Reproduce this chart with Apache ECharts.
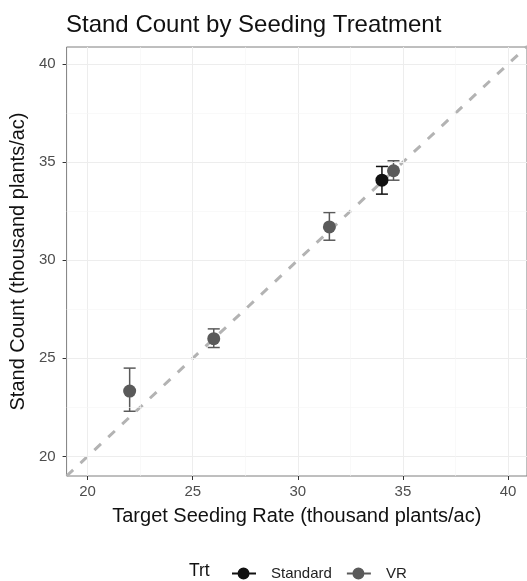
<!DOCTYPE html>
<html><head><meta charset="utf-8">
<script src="https://cdn.jsdelivr.net/npm/echarts@6/dist/echarts.min.js"></script>
<style>html,body{margin:0;padding:0;background:#fff}#c{width:527px;height:581px}</style>
</head><body><div id="c"></div>
<script>
var ticks = [20, 25, 30, 35, 40];
var minorTicks = [22.5, 27.5, 32.5, 37.5];
var axisRange = [19, 40.9];
var yRange = [19, 40.87];
var refLine = [19, 41];
var stdX = [34];
var stdY = [34.08];
var stdLow = [33.37];
var stdHigh = [34.78];
var vrX = [22, 26, 31.5, 34.55];
var vrY = [23.33, 26.0, 31.7, 34.56];
var vrLow = [22.3, 25.55, 31.02, 34.08];
var vrHigh = [24.5, 26.5, 32.43, 35.07];

var FONT = 'Liberation Sans, Arial, sans-serif';
var STD_C = '#111111', VR_C = '#5a5a5a';

function pts(xs, ys){ return xs.map(function(x,i){ return [x, ys[i]]; }); }
function errs(xs, lo, hi){ return xs.map(function(x,i){ return [x, lo[i], hi[i]]; }); }
function errRender(color){
  return function(params, api){
    var x = api.value(0), lo = api.value(1), hi = api.value(2);
    var a = api.coord([x, hi]), b = api.coord([x, lo]);
    var w = 6;
    var st = {stroke: color, lineWidth: 1.5};
    return {type:'group', children:[
      {type:'line', shape:{x1:a[0],y1:a[1],x2:b[0],y2:b[1]}, style:st},
      {type:'line', shape:{x1:a[0]-w,y1:a[1],x2:a[0]+w,y2:a[1]}, style:st},
      {type:'line', shape:{x1:b[0]-w,y1:b[1],x2:b[0]+w,y2:b[1]}, style:st}
    ]};
  };
}
var gridLines = [];
ticks.concat(minorTicks).forEach(function(t){
  var major = ticks.indexOf(t) >= 0;
  var ls = {color: major ? '#ededed' : '#f5f5f5', width: major ? 1 : 0.6, type:'solid'};
  gridLines.push({xAxis: t, lineStyle: ls});
  gridLines.push({yAxis: t, lineStyle: ls});
});
var ICON = 'path://M0,8h26v2h-26z M19,9a6.5,6.5 0 1,1 -13,0a6.5,6.5 0 1,1 13,0z';

var chart = echarts.init(document.getElementById('c'));
chart.setOption({
  animation: false,
  title: {text: 'Stand Count by Seeding Treatment', left: 61, top: 8,
    textStyle: {fontFamily: FONT, fontSize: 24, fontWeight: 'normal', color: '#111'}},
  grid: {left: 62, top: 47, right: -1, bottom: 105, show: true, borderColor: '#7f7f7f', borderWidth: 1, backgroundColor: '#fff'},
  xAxis: {type: 'value', min: axisRange[0], max: axisRange[1],
    name: 'Target Seeding Rate (thousand plants/ac)', nameLocation: 'middle', nameGap: 30,
    nameTextStyle: {fontFamily: FONT, fontSize: 20, color: '#111'},
    axisLine: {show: false}, splitLine: {show: false},
    axisTick: {show: true, customValues: ticks, length: 4, lineStyle: {color: '#333'}},
    axisLabel: {customValues: ticks, fontFamily: FONT, fontSize: 15, color: '#4d4d4d', margin: 8}},
  yAxis: {type: 'value', min: yRange[0], max: yRange[1],
    name: 'Stand Count (thousand plants/ac)', nameLocation: 'middle', nameGap: 36,
    nameTextStyle: {fontFamily: FONT, fontSize: 20, color: '#111'},
    axisLine: {show: false}, splitLine: {show: false},
    axisTick: {show: true, customValues: ticks, length: 4, lineStyle: {color: '#333'}},
    axisLabel: {customValues: ticks, fontFamily: FONT, fontSize: 15, color: '#4d4d4d', margin: 11}},
  legend: {left: 227, top: 561, itemWidth: 24, itemHeight: 13, itemGap: 15,
    formatter: '{a|{name}}',
    textStyle: {fontFamily: FONT, fontSize: 15, color: '#222', rich: {a: {fontFamily: FONT, fontSize: 15, color: '#222', padding: [0, 0, 0, 10]}}},
    data: [
      {name: 'Standard', icon: ICON, itemStyle: {color: STD_C}},
      {name: 'VR', icon: ICON, itemStyle: {color: VR_C}}
    ]},
  graphic: [{type: 'text', left: 189, top: 562, style: {text: 'Trt', font: '17.5px ' + FONT, fill: '#111'}}],
  series: [
    {type: 'line', name: 'grid', data: [], silent: true,
      markLine: {symbol: 'none', silent: true, label: {show: false}, animation: false, data: gridLines}},
    {type: 'line', name: 'ref', data: [[refLine[0], refLine[0]], [refLine[1], refLine[1]]], showSymbol: false,
      silent: true, lineStyle: {color: '#b3b3b3', width: 3, type: [9, 10]}, z: 2},
    {type: 'custom', name: 'VR', renderItem: errRender(VR_C), data: errs(vrX, vrLow, vrHigh), itemStyle: {color: VR_C}, z: 3},
    {type: 'custom', name: 'Standard', renderItem: errRender(STD_C), data: errs(stdX, stdLow, stdHigh), itemStyle: {color: STD_C}, z: 3},
    {type: 'scatter', name: 'VR', data: pts(vrX, vrY), symbolSize: 13, itemStyle: {color: VR_C, opacity: 1}, z: 4},
    {type: 'scatter', name: 'Standard', data: pts(stdX, stdY), symbolSize: 13, itemStyle: {color: STD_C, opacity: 1}, z: 4}
  ]
});
</script></body></html>
